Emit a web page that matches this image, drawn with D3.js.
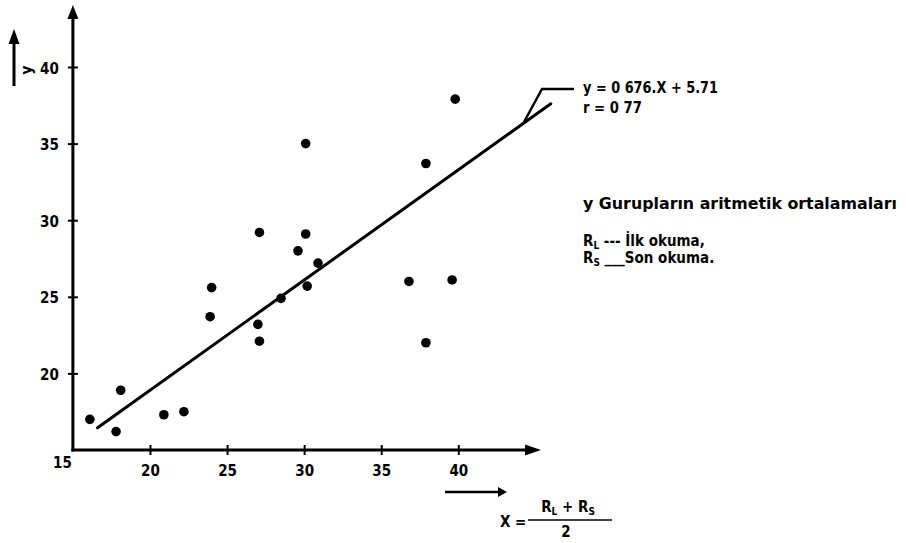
<!DOCTYPE html>
<html>
<head>
<meta charset="utf-8">
<script src="https://cdn.jsdelivr.net/npm/d3@7"></script>
<style>
  html, body { margin: 0; padding: 0; background: #fff; }
  svg { display: block; }
  text { font-family: "DejaVu Sans Condensed", "DejaVu Sans", sans-serif; font-weight: bold; fill: #000; }
</style>
</head>
<body>
<svg id="chart" width="906" height="543"></svg>
<script>
// ---- data ----
const pointX = [16.1, 17.8, 18.1, 20.9, 22.2, 24.0, 23.9, 27.1, 27.0, 27.1, 28.5, 29.6, 30.1, 30.2, 30.9, 36.8, 37.9, 39.6, 39.8, 37.9, 30.1];
const pointY = [17.0, 16.2, 18.9, 17.3, 17.5, 25.6, 23.7, 29.2, 23.2, 22.1, 24.9, 28.0, 29.1, 25.7, 27.2, 26.0, 22.0, 26.1, 37.9, 33.7, 35.0];
const fitX = [16.6, 46.0];          // drawn regression line ends
const fitY = [16.45, 37.6];
const xTicks = [20, 25, 30, 35, 40];
const yTicks = [20, 25, 30, 35, 40];
const originLabel = "15";
const equationLines = ["y = 0 676.X + 5.71", "r = 0 77"];
const legendTitle = "y  Gurupların  aritmetik ortalamaları";

const svg = d3.select("#chart");
const x = d3.scaleLinear().domain([15, 40]).range([72.9, 458.3]);
const y = d3.scaleLinear().domain([15, 40]).range([450, 67]);
const x0 = x(15), y0 = y(15);
const FONT = "\"DejaVu Sans Condensed\", \"DejaVu Sans\", sans-serif";

// axes lines with arrows
svg.append("line").attr("x1", x0).attr("x2", x0).attr("y1", y0 + 1.5).attr("y2", 16)
  .attr("stroke", "#000").attr("stroke-width", 3);
svg.append("path").attr("d", `M${x0 - 5.5},19 L${x0},5 L${x0 + 5.5},19 Z`).attr("fill", "#000");
svg.append("line").attr("x1", x0 - 1.5).attr("x2", 528).attr("y1", y0).attr("y2", y0)
  .attr("stroke", "#000").attr("stroke-width", 3);
svg.append("path").attr("d", `M525,${y0 - 5.5} L541,${y0} L525,${y0 + 5.5} Z`).attr("fill", "#000");

// y axis ticks
const yAxis = d3.axisLeft(y).tickValues(yTicks).tickSize(5).tickPadding(9).tickFormat(d3.format("d"));
const gy = svg.append("g").attr("transform", `translate(${x0},0)`).call(yAxis);
gy.select(".domain").remove();
gy.selectAll(".tick line").attr("x1", -5).attr("x2", 5).attr("stroke", "#000").attr("stroke-width", 2);
gy.selectAll(".tick text").style("font-size", "15px").style("font-family", FONT).style("font-weight", "bold").attr("dy", "0.4em");

// x axis ticks
const xAxis = d3.axisBottom(x).tickValues(xTicks).tickSize(5).tickPadding(10).tickFormat(d3.format("d"));
const gx = svg.append("g").attr("transform", `translate(0,${y0})`).call(xAxis);
gx.select(".domain").remove();
gx.selectAll(".tick line").attr("y1", -5).attr("y2", 5).attr("stroke", "#000").attr("stroke-width", 2);
gx.selectAll(".tick text").style("font-size", "15px").style("font-family", FONT).style("font-weight", "bold");

svg.append("text").attr("x", x0 - 1).attr("y", y0 + 18).attr("text-anchor", "end")
  .style("font-size", "15px").text(originLabel);

// regression line
svg.append("line")
  .attr("x1", x(fitX[0])).attr("y1", y(fitY[0]))
  .attr("x2", x(fitX[1])).attr("y2", y(fitY[1]))
  .attr("stroke", "#000").attr("stroke-width", 3).attr("stroke-linecap", "round");

// points
svg.append("g").selectAll("circle").data(pointX.map((v, i) => [v, pointY[i]])).join("circle")
  .attr("cx", d => x(d[0])).attr("cy", d => y(d[1])).attr("r", 4.8).attr("fill", "#000");

// leader to equation
svg.append("path").attr("d", "M524,122 L542,89 L574,89").attr("fill", "none")
  .attr("stroke", "#000").attr("stroke-width", 2.5);
svg.append("text").attr("x", 583).attr("y", 93).style("font-size", "15px")
  .attr("textLength", 135).attr("lengthAdjust", "spacingAndGlyphs").text(equationLines[0]);
svg.append("text").attr("x", 583).attr("y", 113).style("font-size", "15px")
  .attr("textLength", 59).attr("lengthAdjust", "spacingAndGlyphs").text(equationLines[1]);

// legend
svg.append("text").attr("x", 583).attr("y", 209).style("font-size", "15px")
  .attr("textLength", 314).attr("lengthAdjust", "spacingAndGlyphs").text(legendTitle);
const l1 = svg.append("text").attr("x", 583).attr("y", 246).style("font-size", "15px");
l1.append("tspan").text("R");
l1.append("tspan").attr("dy", 3).style("font-size", "10px").text("L");
l1.append("tspan").attr("dy", -3).text(" --- İlk okuma,");
const l2 = svg.append("text").attr("x", 583).attr("y", 263).style("font-size", "15px");
l2.append("tspan").text("R");
l2.append("tspan").attr("dy", 3).style("font-size", "10px").text("S");
l2.append("tspan").attr("dy", -3).text(" ___Son okuma.");

// side y arrow + label
svg.append("line").attr("x1", 14).attr("x2", 14).attr("y1", 86).attr("y2", 40)
  .attr("stroke", "#000").attr("stroke-width", 3);
svg.append("path").attr("d", "M8.5,44 L14,29 L19.5,44 Z").attr("fill", "#000");
svg.append("text").attr("transform", "translate(32,70) rotate(-90)").attr("text-anchor", "middle")
  .style("font-size", "16px").text("y");

// x label arrow + formula
svg.append("line").attr("x1", 445).attr("x2", 500).attr("y1", 492).attr("y2", 492)
  .attr("stroke", "#000").attr("stroke-width", 2.5);
svg.append("path").attr("d", "M498,487 L507,492 L498,497 Z").attr("fill", "#000");
svg.append("text").attr("x", 500).attr("y", 527).style("font-size", "15px").text("X =");
svg.append("line").attr("x1", 528).attr("x2", 612).attr("y1", 520).attr("y2", 520)
  .attr("stroke", "#000").attr("stroke-width", 1.5);
const num = svg.append("text").attr("x", 568).attr("y", 512).attr("text-anchor", "middle").style("font-size", "15px");
num.append("tspan").text("R");
num.append("tspan").attr("dy", 3).style("font-size", "10px").text("L");
num.append("tspan").attr("dy", -3).text(" + R");
num.append("tspan").attr("dy", 3).style("font-size", "10px").text("S");
svg.append("text").attr("x", 566).attr("y", 537).attr("text-anchor", "middle").style("font-size", "15px").text("2");
</script>
</body>
</html>
